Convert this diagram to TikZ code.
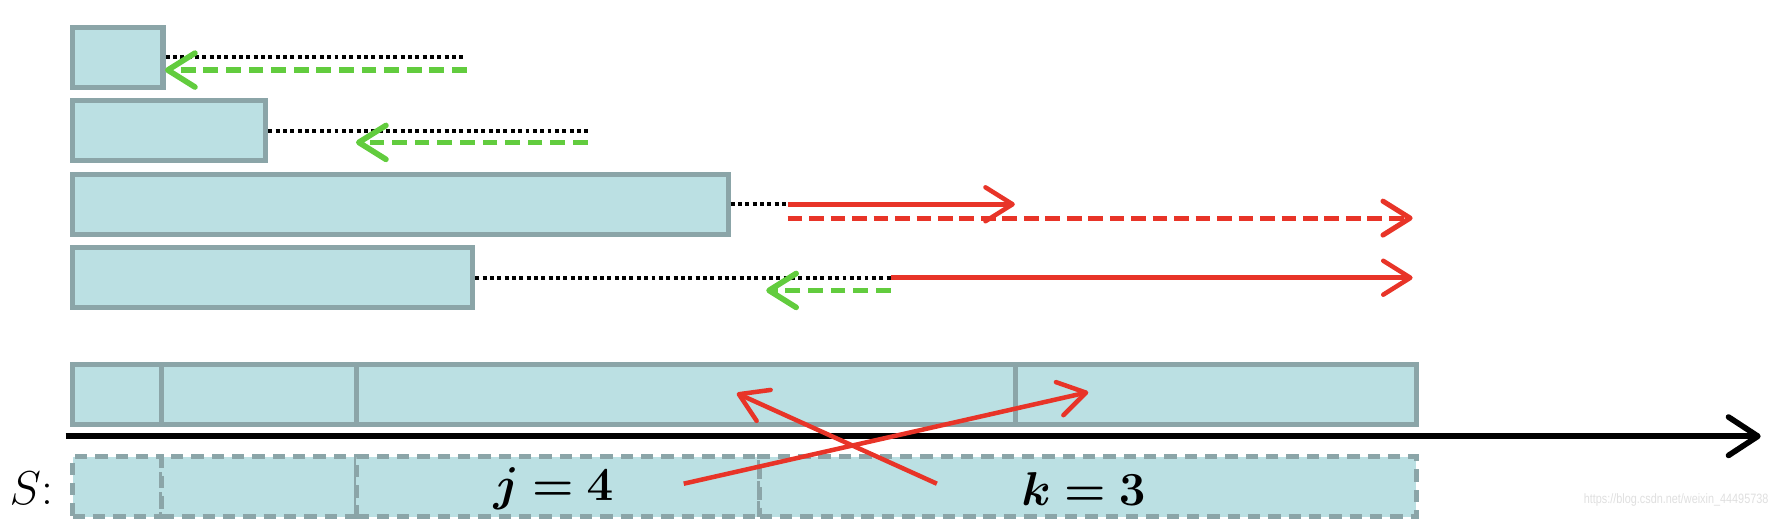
\documentclass[tikz,border=0pt]{standalone}
\usepackage{fix-cm}
\usepackage{amsmath,bm}
\usepackage{fontspec}
\newfontfamily\wmfont{Liberation Sans}
\usetikzlibrary{arrows.meta}
\definecolor{boxfill}{HTML}{BBE0E3}
\definecolor{boxline}{HTML}{8BA5A8}
\definecolor{grn}{HTML}{62CC3E}
\definecolor{rd}{HTML}{E83428}
\tikzset{
  box/.style={draw=boxline, fill=boxfill, line width=4.5pt, rectangle, inner sep=0pt, anchor=north west, minimum height=53pt},
  sbox/.style={box, dash pattern=on 11pt off 7pt},
  chev/.style={-{Straight Barb[length=24pt,width=30pt,round]}},
  dotline/.style={black, line width=3.5pt, dash pattern=on 3.5pt off 3pt},
  gdash/.style={grn, line width=5pt, dash pattern=on 13pt off 7pt, chev},
  rdash/.style={rd, line width=4.5pt, dash pattern=on 13pt off 6pt, chev},
  rsolid/.style={rd, line width=4pt, chev},
  lbl/.style={font=\fontsize{42}{50}\selectfont, inner sep=0pt}
}
\begin{document}
\begin{tikzpicture}[x=1pt,y=-1pt]
\useasboundingbox (0,0) rectangle (1568,469);
% rows
\node[box, minimum width=80pt] (r1) at (62,22) {};
\node[box, minimum width=171pt] (r2) at (62,87) {};
\node[box, minimum width=580pt] (r3) at (62,152) {};
\node[box, minimum width=354pt] (r4) at (62,217) {};
% coordinates
\coordinate (d1) at (413,48);
\coordinate (g1s) at (413,62);
\coordinate (g1e) at (146,62);
\coordinate (d2) at (520,114);
\coordinate (g2s) at (520,126);
\coordinate (g2e) at (315,126);
\coordinate (d3) at (697,179);
\coordinate (r3e) at (898,179);
\coordinate (r3ds) at (697,193);
\coordinate (r3de) at (1250,193);
\coordinate (d4) at (788,244);
\coordinate (r4e) at (1250,244);
\coordinate (g4s) at (788,257);
\coordinate (g4e) at (678,257);
% row 1
\draw[dotline] (r1.east) -- (r1.east -| d1);
\draw[gdash] (g1s) -- (g1e);
% row 2
\draw[dotline] (r2.east) -- (r2.east -| d2);
\draw[gdash] (g2s) -- (g2e);
% row 3
\draw[dotline] (r3.east) -- (r3.east -| d3);
\draw[rsolid] (r3.east -| d3) -- (r3.east -| r3e);
\draw[rdash] (r3ds) -- (r3de);
% row 4
\draw[dotline] (r4.east) -- (r4.east -| d4);
\draw[rsolid] (r4.east -| d4) -- (r4.east -| r4e);
\draw[gdash] (g4s) -- (g4e);
% bottom row
\node[box, minimum width=79pt] (b1) at (62,320) {};
\node[box, minimum width=172pt] (b2) at (141,320) {};
\node[box, minimum width=583pt] (b3) at (313,320) {};
\node[box, minimum width=355pt] (b4) at (896,320) {};
% axis
\coordinate (ax0) at (58,386);
\coordinate (ax1) at (1558,386);
\draw[black, line width=5pt, -{Straight Barb[length=26pt,width=34pt,round]}] (ax0) -- (ax1);
% S row
\node[sbox, minimum width=79pt] (s1) at (62,402) {};
\node[sbox, minimum width=172pt] (s2) at (141,402) {};
\node[sbox, minimum width=357pt] (s3) at (313,402) {};
\node[sbox, minimum width=581pt] (s4) at (670,402) {};
\node[lbl] (jlab) at ([xshift=-4pt,yshift=-2pt]s3.center) {$\bm{j=4}$};
\node[lbl] (klab) at ([xshift=-4pt,yshift=-2pt]s4.center) {$\bm{k=3}$};
\node[lbl, anchor=east] (slab) at (47,432) {$S$:};
% crossing arrows
\coordinate (ca0) at (605,428);
\coordinate (ca1) at (963,347);
\coordinate (cb0) at (829,428);
\coordinate (cb1) at (652,348);
\draw[rsolid] (ca0) -- (ca1);
\draw[rsolid] (cb0) -- (cb1);
% watermark
\node[anchor=east, inner sep=0pt, text=gray!25, font=\wmfont\fontsize{12}{14}\selectfont] (wm) at (1565,442) {\scalebox{0.8}[1]{https://blog.csdn.net/weixin\_44495738}};
\end{tikzpicture}
\end{document}
